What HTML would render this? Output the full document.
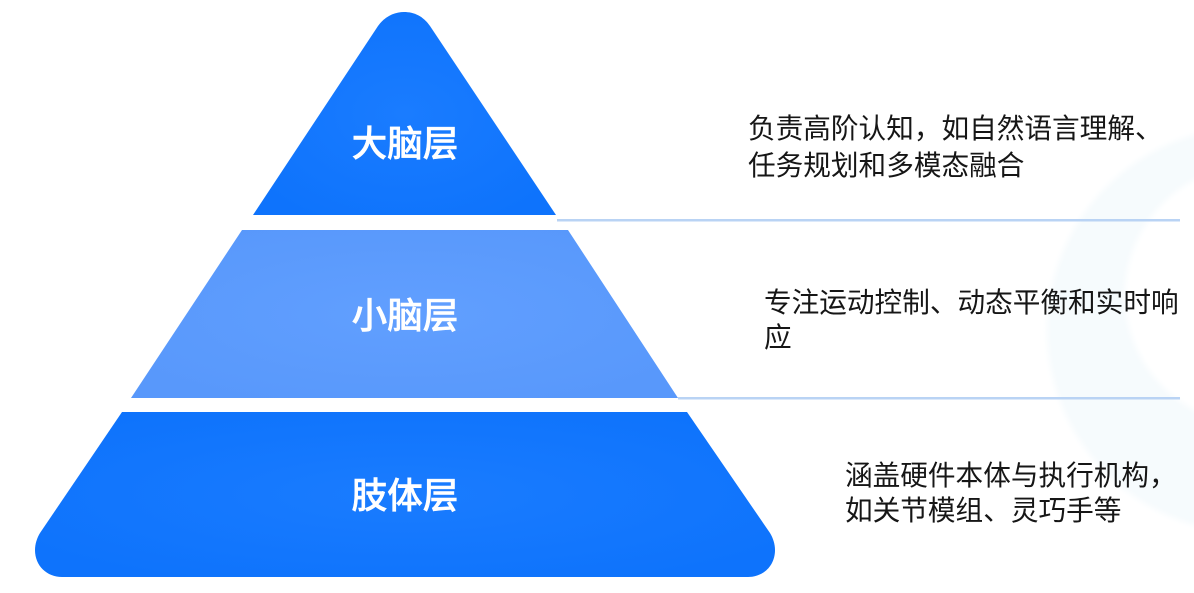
<!DOCTYPE html>
<html lang="zh">
<head>
<meta charset="utf-8">
<title>三层金字塔</title>
<style>
html,body{margin:0;padding:0;background:#fff}
svg{display:block}
text{font-family:"Liberation Sans","Noto Sans CJK SC",sans-serif}
.t{fill:#fff;stroke:#fff;stroke-width:.5px;font-size:35.6px;font-weight:500;text-anchor:middle}
.d{fill:#161616;font-size:27.65px}
</style>
</head>
<body>
<svg width="1194" height="593" viewBox="0 0 1194 593" xmlns="http://www.w3.org/2000/svg">
<defs>
<radialGradient id="g1" cx="50%" cy="50%" r="60%"><stop offset="0" stop-color="#1a7cff"/><stop offset="1" stop-color="#0e73fc"/></radialGradient>
<radialGradient id="g2" cx="50%" cy="50%" r="60%"><stop offset="0" stop-color="#619fff"/><stop offset="1" stop-color="#5898fb"/></radialGradient>
<filter id="b" x="-20%" y="-20%" width="140%" height="140%"><feGaussianBlur stdDeviation="3"/></filter>
</defs>
<rect width="1194" height="593" fill="#fff"/>
<path filter="url(#b)" fill-rule="evenodd" fill="#f6fbfd" d="M1047 330a203 203 0 1 0 406 0a203 203 0 1 0 -406 0zM1125 295a130 130 0 1 0 260 0a130 130 0 1 0 -260 0z"/>
<path fill="url(#g1)" d="M253 215L378 26C385 16 395 12 404 12C414 12 423 16 430 26L556 215Z"/>
<path fill="url(#g2)" d="M242 230H568L678 398H131Z"/>
<path fill="url(#g1)" d="M122 412H687L770 533C773 538 775 544 775 550C775 566 763 577 748 577H62C47 577 35 566 35 550C35 544 37 538 40 533Z"/>
<rect x="557" y="219" width="623" height="2.5" fill="#b9d3f4"/>
<rect x="678" y="397" width="502" height="2.5" fill="#b9d3f4"/>
<text class="t" x="405" y="156">大脑层</text>
<text class="t" x="405" y="328">小脑层</text>
<text class="t" x="405" y="508">肢体层</text>
<text class="d" x="748" y="138">负责高阶认知，如自然语言理解、</text>
<text class="d" x="748" y="175">任务规划和多模态融合</text>
<text class="d" x="764" y="312">专注运动控制、动态平衡和实时响</text>
<text class="d" x="764" y="347">应</text>
<text class="d" x="845" y="485">涵盖硬件本体与执行机构，</text>
<text class="d" x="845" y="520">如关节模组、灵巧手等</text>
</svg>
</body>
</html>
